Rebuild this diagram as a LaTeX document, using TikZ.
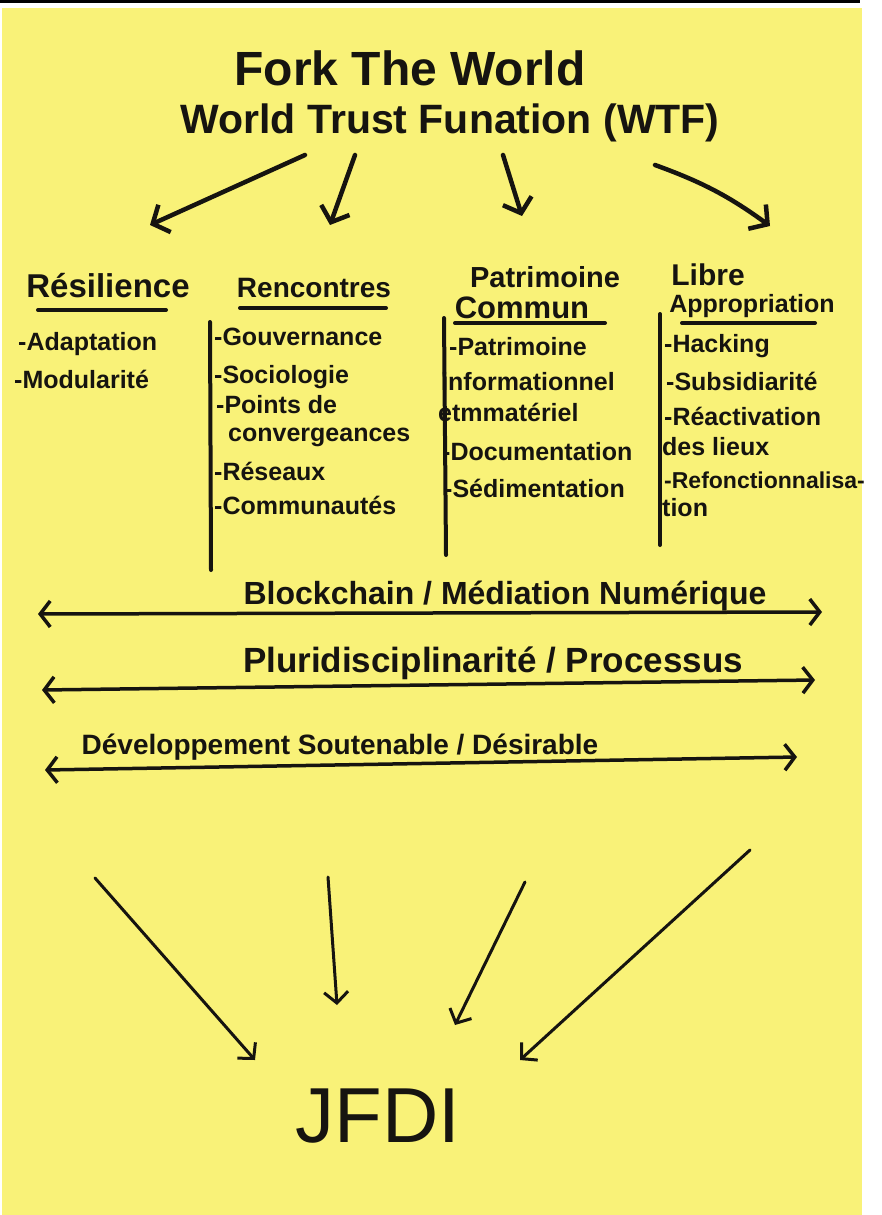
\documentclass[tikz,border=0pt]{standalone}
\usepackage{fontspec}
\setmainfont{Liberation Sans}
\usetikzlibrary{arrows.meta}
\definecolor{paper}{RGB}{249,242,120}
\definecolor{ink}{RGB}{22,20,16}
\newcommand{\handfont}[1]{\fontsize{#1}{#1}\selectfont\bfseries}

\begin{document}
\begin{tikzpicture}[x=1pt,y=-1pt,
  txt/.style={inner sep=0pt,text=ink,anchor=base},
  head/.style={txt,font=\handfont{29}},
  item/.style={inner sep=0pt,text=ink,anchor=base west,font=\handfont{25}},
  inkline/.style={draw=ink,line width=4pt,line cap=round},
  tarr/.style={draw=ink,line width=4.5pt,line cap=round,-{Straight Barb[length=13pt,width=30pt]}},
  barr/.style={draw=ink,line width=3pt,line cap=round,-{Straight Barb[length=11pt,width=24pt]}},
  band/.style={draw=ink,line width=3.5pt,{Straight Barb[length=10pt,width=26pt]}-{Straight Barb[length=10pt,width=26pt]}}]

% sheet
\fill[white] (0,0) rectangle (882,1215);
\fill[paper] (2,8) rectangle (862,1215);
\fill[black] (0,0) rectangle (860,3);
\useasboundingbox (0,0) rectangle (882,1215);

% title
\node[txt,font=\handfont{48}] (fork) at (410,85) {Fork The World};
\node[txt,font=\handfont{41}] (wtf) at (450,133) {World Trust Funation (WTF)};

\coordinate (t1) at (305,155); \coordinate (h1) at (150,225);
\coordinate (t2) at (355,155); \coordinate (h2) at (330,225);
\coordinate (t3) at (503,155); \coordinate (h3) at (522,216);
\coordinate (t4) at (655,165); \coordinate (h4) at (770,226);
\draw[tarr] (t1) -- (h1);
\draw[tarr] (t2) -- (h2);
\draw[tarr] (t3) -- (h3);
\draw[tarr] (t4) to[bend left=8] (h4);

% columns
\node[head,font=\handfont{33}] (res) at (108,297) {Résilience};
\node[head,font=\handfont{28}] (ren) at (314,297) {Rencontres};
\node[head] (pat) at (545,287) {Patrimoine};
\node[head,font=\handfont{31}] (com) at (522,318) {Commun};
\node[head,font=\handfont{30}] (lib) at (708,285) {Libre};
\node[head,font=\handfont{25}] (app) at (752,312) {Appropriation};

\draw[inkline] (38,310) -- (166,310);
\draw[inkline] (240,308) -- (386,308);
\draw[inkline] (455,323) -- (605,323);
\draw[inkline] (682,323) -- (815,323);

\draw[inkline] (210,322) -- (211,570);
\draw[inkline] (444,318) -- (446,555);
\draw[inkline] (660,314) -- (660,545);

\node[item] (a1) at (18,350) {-Adaptation};
\node[item] (a2) at (14,388) {-Modularité};

\node[item] (r1) at (214,345) {-Gouvernance};
\node[item] (r2) at (214,383) {-Sociologie};
\node[item] (r3) at (216,413) {-Points de};
\node[item] (r4) at (228,441) {convergeances};
\node[item] (r5) at (214,480) {-Réseaux};
\node[item] (r6) at (214,514) {-Communautés};

\node[item] (p1) at (449,355) {-Patrimoine};
\node[item] (p2) at (441,390) {informationnel};
\node[item] (p3) at (438,421) {etmmatériel};
\node[item] (p4) at (442,460) {-Documentation};
\node[item] (p5) at (444,497) {-Sédimentation};

\node[item] (l1) at (664,352) {-Hacking};
\node[item] (l2) at (666,390) {-Subsidiarité};
\node[item] (l3) at (664,425) {-Réactivation};
\node[item] (l4) at (662,455) {des lieux};
\node[item,font=\handfont{23}] (l5) at (664,488) {-Refonctionnalisa-};
\node[item] (l6) at (662,516) {tion};

% transversal bands
\node[txt,font=\handfont{32}] (blk) at (505,604) {Blockchain / Médiation Numérique};
\coordinate (b1l) at (38,614); \coordinate (b1r) at (822,612);
\draw[band] (b1l) -- (b1r);

\node[txt,font=\handfont{35}] (plu) at (493,672) {Pluridisciplinarité / Processus};
\coordinate (b2l) at (42,690); \coordinate (b2r) at (815,680);
\draw[band] (b2l) -- (b2r);

\node[txt,font=\handfont{28}] (dev) at (340,754) {Développement Soutenable / Désirable};
\coordinate (b3l) at (45,770); \coordinate (b3r) at (797,757);
\draw[band] (b3l) -- (b3r);

% result
\node[txt,font=\fontsize{78}{80}\selectfont] (jfdi) at (378,1142) {JFDI};

\coordinate (s1) at (95,878);  \coordinate (e1) at (255,1060);
\coordinate (s2) at (328,877); \coordinate (e2) at (337,1005);
\coordinate (s3) at (525,882); \coordinate (e3) at (455,1025);
\coordinate (s4) at (750,850); \coordinate (e4) at (520,1060);
\draw[barr] (s1) -- (e1);
\draw[barr] (s2) -- (e2);
\draw[barr] (s3) -- (e3);
\draw[barr] (s4) -- (e4);

\end{tikzpicture}
\end{document}
